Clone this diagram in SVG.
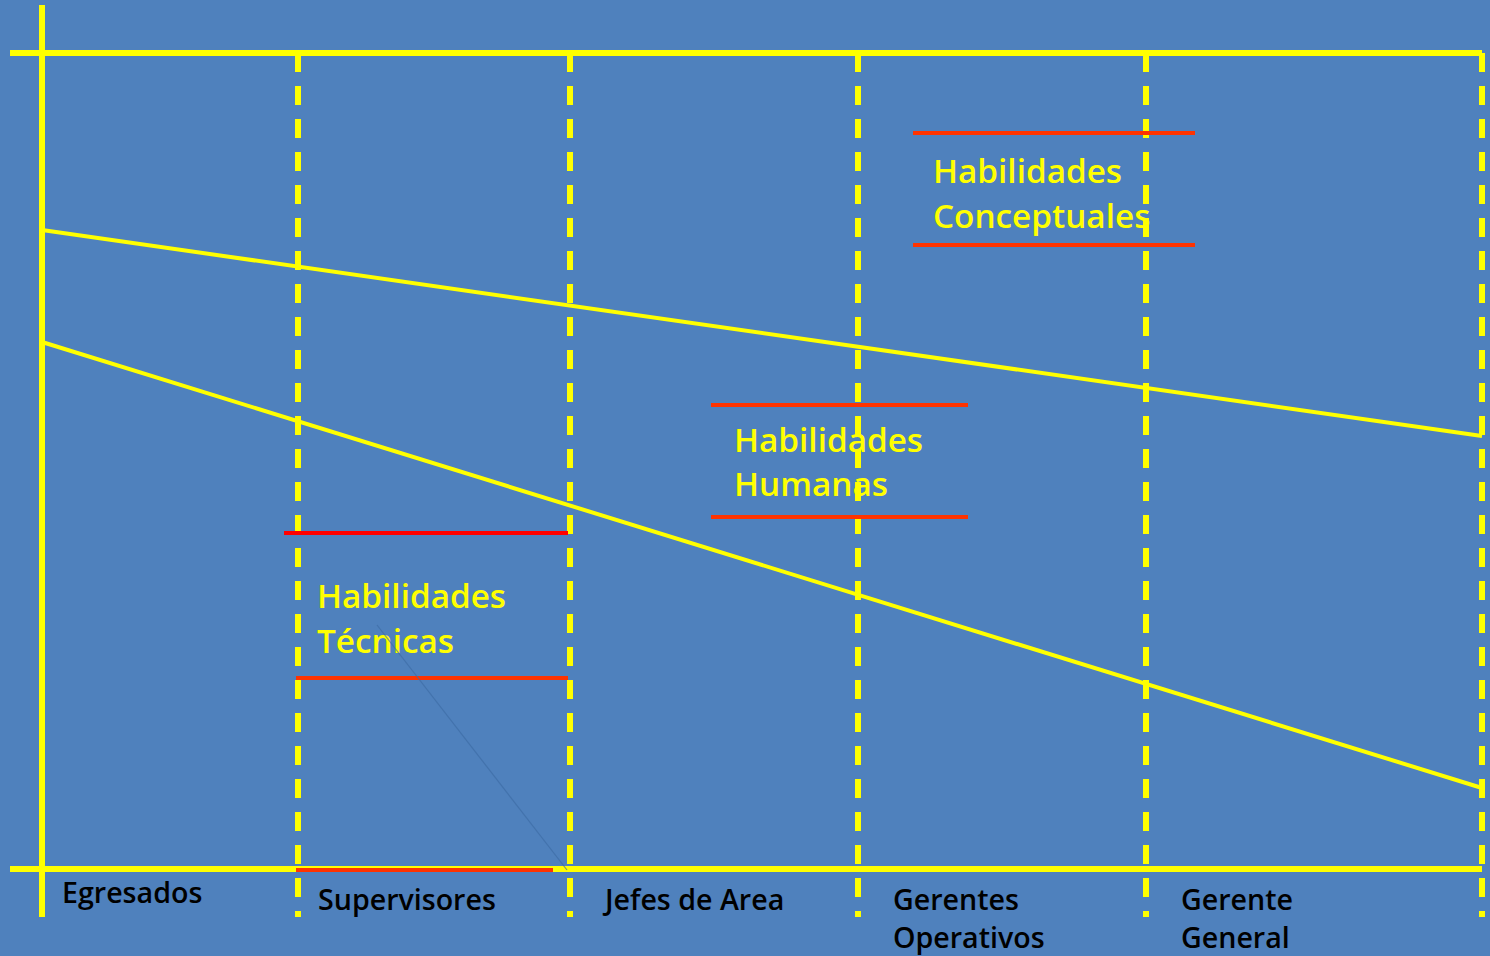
<svg xmlns="http://www.w3.org/2000/svg" width="1490" height="956" viewBox="0 0 1490 956">
<style>
.ax{stroke:#FFFF00;stroke-width:6;fill:none}
.dash{stroke:#FFFF00;stroke-width:6;fill:none;stroke-dasharray:19 14}
.diag{stroke:#FFFF00;stroke-width:4;fill:none}
.red{stroke:#FF3300;stroke-width:4;fill:none}
.red2{stroke:#FF0000;stroke-width:4;fill:none}
.hab{font-family:"Open Sans","Noto Sans",sans-serif;font-weight:600;font-size:33.3px;fill:#FFFF00}
.lbl{font-family:"Open Sans","Noto Sans",sans-serif;font-weight:600;font-size:28.6px;fill:#000000}
</style>
<rect x="0" y="0" width="1490" height="956" fill="#4F81BD"/>
<g id="connectors">
<line class="ax" x1="42" y1="5" x2="42" y2="917"/>
<line class="ax" x1="10" y1="53" x2="1482" y2="53"/>
<line class="ax" x1="10" y1="869" x2="1482" y2="869"/>
<line class="dash" x1="298" y1="53" x2="298" y2="917"/>
<line class="dash" x1="570" y1="53" x2="570" y2="917"/>
<line class="dash" x1="858" y1="53" x2="858" y2="917"/>
<line class="dash" x1="1146" y1="53" x2="1146" y2="917"/>
<line class="dash" x1="1482" y1="53" x2="1482" y2="917"/>
<line class="diag" x1="42" y1="230" x2="1482" y2="436"/>
<line class="diag" x1="42" y1="342" x2="1482" y2="788"/>
</g>
<g id="conceptuales">
<line class="red" x1="913" y1="133" x2="1195" y2="133"/>
<line class="red" x1="913" y1="245" x2="1195" y2="245"/>
<text class="hab" x="933" y="183">Habilidades</text>
<text class="hab" x="933" y="228">Conceptuales</text>
</g>
<g id="humanas">
<line class="red" x1="711" y1="405" x2="968" y2="405"/>
<line class="red" x1="711" y1="517" x2="968" y2="517"/>
<text class="hab" x="734" y="452">Habilidades</text>
<text class="hab" x="734" y="496">Humanas</text>
</g>
<g id="tecnicas">
<line class="red2" x1="284" y1="533" x2="568" y2="533"/>
<line class="red" x1="296" y1="678" x2="568" y2="678"/>
<line class="red" x1="296" y1="870" x2="553" y2="870"/>
<text class="hab" x="317" y="608">Habilidades</text>
<text class="hab" x="317" y="653">Técnicas</text>
<line x1="377" y1="625" x2="567" y2="870" stroke="#3E6DA6" stroke-width="1.2" opacity="0.7"/>
</g>
<g id="labels">
<text class="lbl" x="62" y="903">Egresados</text>
<text class="lbl" x="318" y="910">Supervisores</text>
<text class="lbl" x="605" y="910">Jefes de Area</text>
<text class="lbl" x="893" y="910">Gerentes</text>
<text class="lbl" x="893" y="948">Operativos</text>
<text class="lbl" x="1181" y="910">Gerente</text>
<text class="lbl" x="1181" y="948">General</text>
</g>
</svg>
